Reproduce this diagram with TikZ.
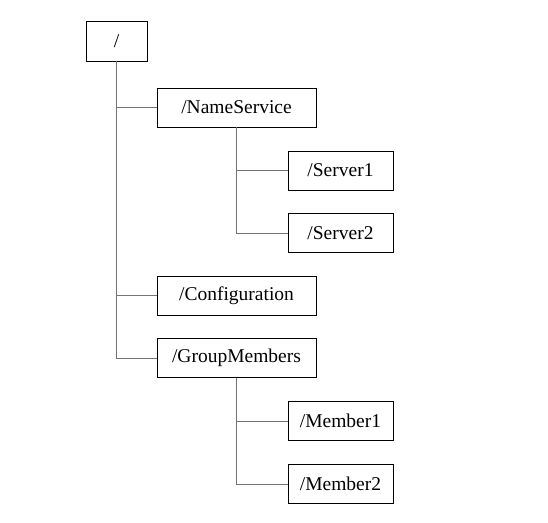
\documentclass[tikz,border=0pt]{standalone}
\usepackage{fontspec}
\setmainfont{Liberation Serif}
\begin{document}
\begin{tikzpicture}[x=1pt,y=-1pt,
  box/.style={draw=black, line width=0.9pt, minimum height=39pt, inner sep=0pt, font=\fontsize{19.5}{21}\selectfont},
  wide/.style={box, minimum width=159pt},
  leaf/.style={box, minimum width=105pt},
  link/.style={draw=black!55, line width=0.9pt}]
\useasboundingbox (0,0) rectangle (548,522);
\node[box, minimum width=61pt, minimum height=40pt] (root) at (116.5,41) {/};
\node[wide] (ns) at (236.5,107.5) {/NameService};
\node[leaf] (s1) at (340.5,170.5) {/Server1};
\node[leaf] (s2) at (340.5,233) {/Server2};
\node[wide] (cfg) at (236.5,295.5) {/Configuration};
\node[wide] (gm) at (236.5,358) {/GroupMembers};
\node[leaf] (m1) at (340.5,421) {/Member1};
\node[leaf] (m2) at (340.5,484) {/Member2};
\path[link] (root.south) |- (ns.west);
\path[link] (root.south) |- (cfg.west);
\path[link] (root.south) |- (gm.west);
\path[link] (ns.south) |- (s1.west);
\path[link] (ns.south) |- (s2.west);
\path[link] (gm.south) |- (m1.west);
\path[link] (gm.south) |- (m2.west);
\end{tikzpicture}
\end{document}
